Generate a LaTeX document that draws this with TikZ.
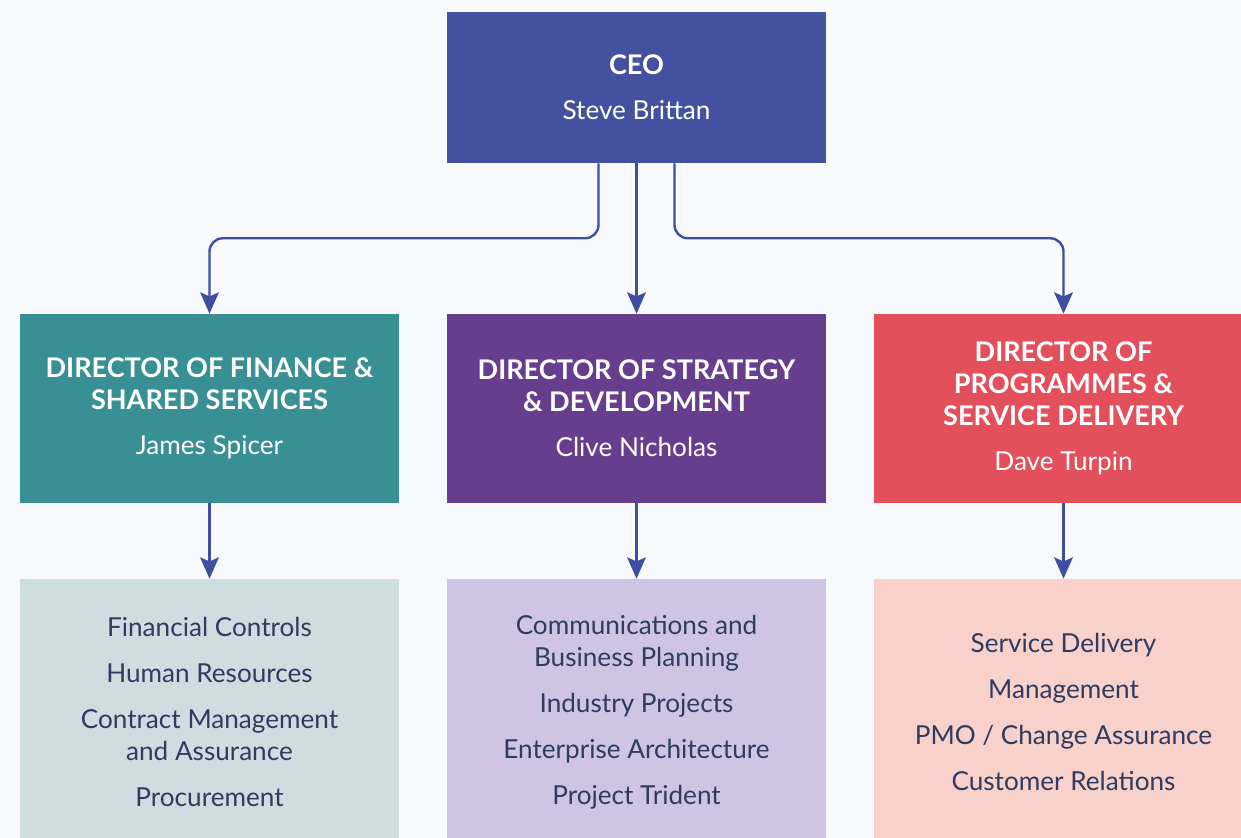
\documentclass[tikz,border=0pt]{standalone}
\usepackage{fontspec}
\setmainfont{Lato}
\usepackage{tikz}
\usetikzlibrary{arrows.meta,positioning}
\definecolor{PageBg}{HTML}{F8F9FC}
\definecolor{CeoBlue}{HTML}{4351A0}
\definecolor{FinTeal}{HTML}{389095}
\definecolor{StratPurple}{HTML}{673D8E}
\definecolor{ProgRed}{HTML}{E34F5B}
\definecolor{FinLight}{HTML}{CDDDE0}
\definecolor{StratLight}{HTML}{CFC4E3}
\definecolor{ProgLight}{HTML}{F8D1CB}
\definecolor{UnitInk}{HTML}{2F3B5F}
\definecolor{LinkBlue}{HTML}{3E4FA1}
\newcommand\headfont{\bfseries\fontsize{20.3}{24}\selectfont}
\tikzset{
  BaseNode/.style = {align=center, inner sep=4pt, text centered, rectangle, minimum width=284.25pt, font=\fontsize{19.6}{24}\selectfont},
  CeoNode/.style = {BaseNode, fill=CeoBlue, text=white, minimum height=113.25pt},
  DirNode/.style = {BaseNode, text=white, minimum height=141.75pt},
  UnitNode/.style = {BaseNode, text=UnitInk, minimum height=199.5pt},
  Link/.style = {-{Stealth[length=16pt,width=14pt,inset=3pt]}, draw=LinkBlue, line width=1.8pt, rounded corners=10pt},
}

\begin{document}
\begin{tikzpicture}[x=0.75pt,y=-0.75pt]
    \fill[PageBg] (0,0) rectangle (1241,838);
    \useasboundingbox (0,0) rectangle (1241,838);
    % top
    \node [CeoNode] (ceo) at (636.5,87.5) {{\headfont CEO}\\[9.75pt]Steve Brittan};
    % directors
    \node [DirNode, fill=FinTeal] (fin) at (209.5,408.5) {{\headfont DIRECTOR OF FINANCE \&}\\{\headfont SHARED SERVICES}\\[9.75pt]James Spicer};
    \node [DirNode, fill=StratPurple] (strat) at (636.5,408.5) {{\headfont DIRECTOR OF STRATEGY}\\{\headfont \& DEVELOPMENT}\\[9.75pt]Clive Nicholas};
    \node [DirNode, fill=ProgRed] (prog) at (1063.5,408.5) {{\headfont DIRECTOR OF}\\{\headfont PROGRAMMES \&}\\{\headfont SERVICE DELIVERY}\\[9.75pt]Dave Turpin};
    % units
    \node [UnitNode, fill=FinLight] (finunits) at (209.5,712) {Financial Controls\\[10.5pt]Human Resources\\[10.5pt]Contract Management\\and Assurance\\[10.5pt]Procurement};
    \node [UnitNode, fill=StratLight] (stratunits) at (636.5,712) {Communications and\\Business Planning\\[10.5pt]Industry Projects\\[10.5pt]Enterprise Architecture\\[10.5pt]Project Trident};
    \node [UnitNode, fill=ProgLight] (progunits) at (1063.5,712) {Service Delivery\\[10.5pt]Management\\[10.5pt]PMO / Change Assurance\\[10.5pt]Customer Relations};
    % links
    \draw [Link] ([xshift=-28.5pt]ceo.south) -- ++(0,75) -| (fin.north);
    \draw [Link] (ceo) -- (strat);
    \draw [Link] ([xshift=28.5pt]ceo.south) -- ++(0,75) -| (prog.north);
    \draw [Link] (fin) -- (finunits);
    \draw [Link] (strat) -- (stratunits);
    \draw [Link] (prog) -- (progunits);
\end{tikzpicture}
\end{document}
